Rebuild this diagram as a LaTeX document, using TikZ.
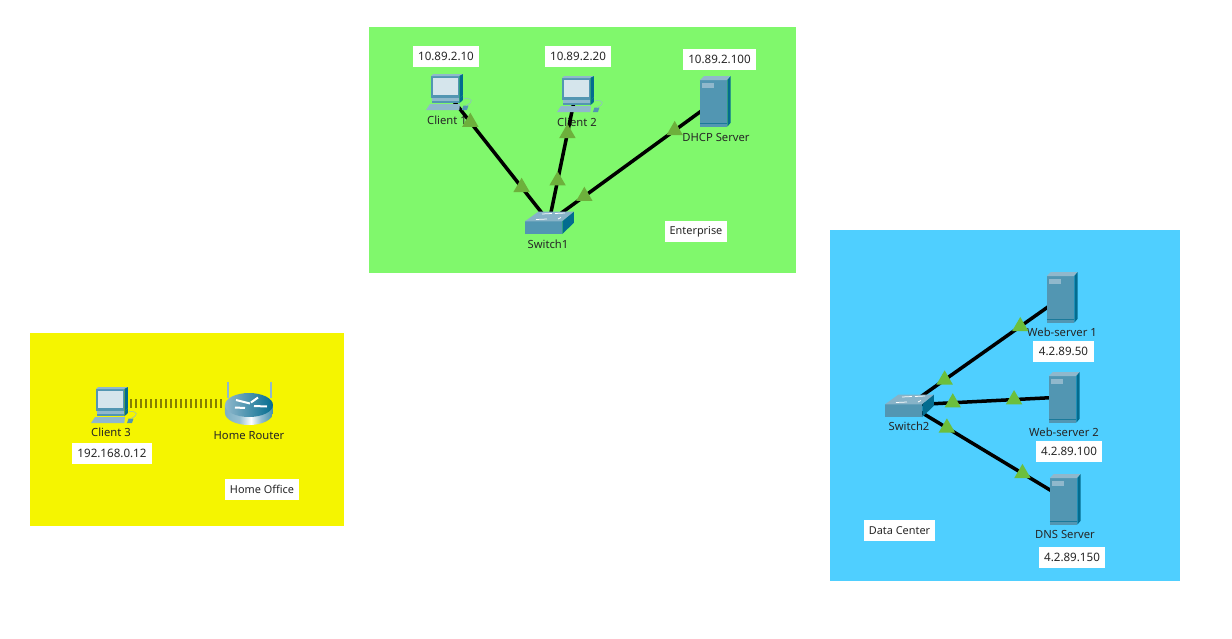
\documentclass[tikz,border=0pt]{standalone}
\usepackage{fontspec}
\setmainfont{Noto Sans}
\usetikzlibrary{shapes.geometric}
\definecolor{entgreen}{HTML}{80F86C}
\definecolor{homeyellow}{HTML}{F5F500}
\definecolor{dcblue}{HTML}{4FCFFF}
\definecolor{linkgreen}{HTML}{6DB03C}
\definecolor{linkbright}{HTML}{6CBF3C}
\definecolor{wifiolive}{HTML}{857F00}
\definecolor{iconfront}{HTML}{5296B2}
\definecolor{iconside}{HTML}{036C8F}
\definecolor{icontop}{HTML}{90B8CC}
\definecolor{iconscreen}{HTML}{D5E5EC}
\pgfdeclarehorizontalshading{routerbody}{100bp}{color(0bp)=(iconfront); color(40bp)=(iconfront!60!white); color(52bp)=(white); color(62bp)=(iconfront!60!white); color(85bp)=(iconside); color(100bp)=(iconside)}
\tikzset{
  devlabel/.style={font=\fontsize{6.4}{8}\selectfont,text=black!85},
  addrbox/.style={font=\fontsize{6.6}{8}\selectfont,text=black!85,fill=white,inner xsep=1mm,minimum height=4.2mm},
  namebox/.style={font=\fontsize{6.2}{8}\selectfont,text=black!85,fill=white,inner xsep=1mm,minimum height=4.2mm},
  linkup/.style={regular polygon,regular polygon sides=3,fill=linkgreen,minimum size=3.8mm},
  linkdc/.style={linkup,fill=linkbright},
  wire/.style={black,line width=0.7mm},
  pcicon/.pic={
    \fill [iconfront] (-1.4,1.4) rectangle (1.43,-0.83);
    \fill [iconscreen] (-1.17,1.23) rectangle (1.27,-0.5);
    \fill [icontop] (-1.4,1.4) -- (-1.17,1.6) -- (1.8,1.6) -- (1.43,1.4) -- cycle;
    \fill [iconside] (1.43,1.4) -- (1.8,1.6) -- (1.8,-0.5) -- (1.43,-0.83) -- cycle;
    \fill [icontop] (-1.33,-0.83) rectangle (1.43,-1.05);
    \fill [iconfront] (-1.33,-1.05) rectangle (1.43,-1.33);
    \fill [iconside] (1.43,-0.83) -- (1.8,-0.5) -- (1.8,-1.0) -- (1.43,-1.33) -- cycle;
    \fill [icontop] (-1.9,-2) -- (-1.5,-1.4) -- (1.5,-1.4) -- (1.43,-2) -- cycle;
    \fill [iconfront] (1.7,-2) -- (1.85,-1.55) -- (2.35,-1.55) -- (2.2,-2) -- cycle;
    \draw [icontop,line width=0.1mm] (2.1,-1.55) .. controls (2.9,-1.2) and (2.8,-0.8) .. (1.9,-0.85);
  },
  servericon/.pic={
    \fill [iconfront] (-1.5,2.1) rectangle (1.23,-2.57);
    \fill [icontop] (-1.5,2.1) -- (-1.1,2.5) -- (1.57,2.5) -- (1.23,2.1) -- cycle;
    \fill [iconside] (1.23,2.1) -- (1.57,2.5) -- (1.57,-2.17) -- (1.23,-2.57) -- cycle;
    \fill [icontop] (-1.3,1.77) rectangle (-0.1,1.3);
    \draw [iconside!70!iconfront,line width=0.15mm] (-1.5,-2.23) -- (1.23,-2.23);
  },
  switchicon/.pic={
    \fill [iconfront] (-2.4,0.07) rectangle (1.33,-1.2);
    \fill [icontop!85!iconfront] (-2.4,0.07) -- (-1.07,1.03) -- (2.5,1.03) -- (1.33,0.07) -- cycle;
    \fill [iconside] (1.33,0.07) -- (2.5,1.03) -- (2.5,-0.07) -- (1.33,-1.2) -- cycle;
    \draw [white,line width=0.15mm] (-0.7,0.8) -- (0.3,0.85);
    \draw [white,line width=0.15mm] (0.6,0.85) -- (1.6,0.9);
    \draw [white,line width=0.15mm] (-1.3,0.25) -- (-0.2,0.3);
    \draw [white,line width=0.15mm] (0.9,0.3) -- (1.2,0.45);
  },
  routericon/.pic={
    \fill [icontop] (-2.1,0.5) rectangle (-1.85,2.1);
    \fill [icontop] (2.2,0.5) rectangle (2.45,2.1);
    \shade [shading=routerbody] (-2.3,-0.2) -- (-2.3,-1.0) arc (180:360:2.4 and 1.2) -- (2.5,-0.2) -- cycle;
    \shade [left color=icontop,right color=iconside] (0.1,-0.2) ellipse (2.4 and 1.2);
    \draw [white,line width=0.4mm] (-1.2,0.3) -- (0.2,-0.05);
    \draw [white,line width=0.4mm] (-1.3,-0.45) -- (-0.3,-0.5);
    \draw [white,line width=0.4mm] (1.0,0.55) -- (0.3,0.05);
    \draw [white,line width=0.4mm] (0.6,-0.3) -- (1.9,-0.35);
  }
}
\begin{document}
\begin{tikzpicture}[scale=0.2]
\tikzstyle{every node}+=[inner sep=0pt,outer sep=0pt]
\useasboundingbox (0,0) rectangle (123.2,-63.8);
\fill [entgreen] (36.9,-2.7) rectangle (79.6,-27.3);
\fill [homeyellow] (3,-33.3) rectangle (34.4,-52.6);
\fill [dcblue] (83,-23) rectangle (118,-58.1);
% devices
\node (client1) at (44.5,-9) {};
\node (client2) at (57.6,-9.2) {};
\node (dhcp) at (71.5,-10.1) {};
\node (switch1) at (54.9,-22.2) {};
\node (client3) at (11,-40.3) {};
\node (router) at (24.8,-40.3) {};
\node (switch2) at (90.9,-40.5) {};
\node (web1) at (106.2,-29.7) {};
\node (web2) at (106.4,-39.7) {};
\node (dns) at (106.5,-49.9) {};
% labels
\node [devlabel] at (44.7,-12) {Client 1};
\node [devlabel] at (57.7,-12.2) {Client 2};
\node [devlabel] at (71.6,-13.7) {DHCP Server};
\node [devlabel] at (54.8,-24.4) {Switch1};
\node [devlabel] at (11.1,-43.2) {Client 3};
\node [devlabel] at (24.9,-43.6) {Home Router};
\node [devlabel] at (90.9,-42.6) {Switch2};
\node [devlabel] at (106.2,-33.2) {Web-server 1};
\node [devlabel] at (106.4,-43.2) {Web-server 2};
\node [devlabel] at (106.5,-53.4) {DNS Server};
\node [addrbox] (addr1) at (44.6,-5.65) {10.89.2.10};
\node [addrbox] (addr2) at (57.8,-5.65) {10.89.2.20};
\node [addrbox] (addr3) at (71.95,-5.95) {10.89.2.100};
\node [addrbox] (addr4) at (11.2,-45.35) {192.168.0.12};
\node [addrbox,inner xsep=1.2mm] (addr5) at (106.35,-35.1) {4.2.89.50};
\node [addrbox] (addr6) at (106.9,-45.15) {4.2.89.100};
\node [addrbox] (addr7) at (107.2,-55.75) {4.2.89.150};
\node [namebox] (enterprise) at (69.6,-23.15) {Enterprise};
\node [namebox] (homeoffice) at (26.2,-48.95) {Home Office};
\node [namebox] (datacenter) at (89.95,-53.05) {Data Center};
% links
\draw [wire] (client1) -- node [pos=0.24,linkup] {} node [pos=0.74,linkup] {} (switch1);
\draw [wire] (client2) -- node [pos=0.315,linkup] {} node [pos=0.685,linkup] {} (switch1);
\draw [wire] (dhcp) -- node [pos=0.24,linkup] {} node [pos=0.79,linkup] {} (switch1);
\draw [wire] (switch2) -- node [pos=0.23,linkdc] {} node [pos=0.73,linkdc] {} (web1);
\draw [wire] (switch2) -- node [pos=0.28,linkdc] {} node [pos=0.68,linkdc] {} (web2);
\draw [wire] (switch2) -- node [pos=0.24,linkdc] {} node [pos=0.73,linkdc] {} (dns);
\draw [wifiolive,line width=1.8mm,dash pattern=on 0.4mm off 0.6mm,shorten <=3.8mm,shorten >=4.6mm] (client3) -- (router);
% icons
\pic [scale=0.2] at (client1) {pcicon};
\pic [scale=0.2] at (client2) {pcicon};
\pic [scale=0.2] at (client3) {pcicon};
\pic [scale=0.2] at (dhcp) {servericon};
\pic [scale=0.2] at (web1) {servericon};
\pic [scale=0.2] at (web2) {servericon};
\pic [scale=0.2] at (dns) {servericon};
\pic [scale=0.2] at (switch1) {switchicon};
\pic [scale=0.2] at (switch2) {switchicon};
\pic [scale=0.2] at (router) {routericon};
\end{tikzpicture}
\end{document}
